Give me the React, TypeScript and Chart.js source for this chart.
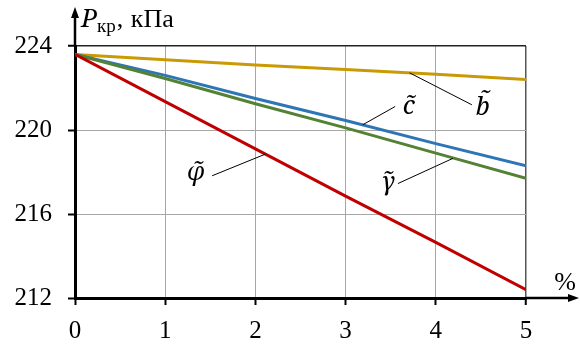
import React, { useEffect, useRef } from 'react';
import { Chart, registerables } from 'chart.js';

Chart.register(...registerables);

const xValues = [0, 1, 2, 3, 4, 5];
const seriesB = [223.6, 223.35, 223.1, 222.88, 222.65, 222.4];
const seriesC = [223.6, 222.6, 221.5, 220.45, 219.35, 218.3];
const seriesGamma = [223.6, 222.45, 221.25, 220.1, 218.9, 217.7];
const seriesPhi = [223.6, 221.35, 219.1, 216.85, 214.65, 212.4];
const yTickValues = [212, 216, 220, 224];
const xTickValues = [0, 1, 2, 3, 4, 5];

const seriesNames = ['b̃', 'c̃', 'γ̃', 'φ̃'];
const seriesColors = ['#C99A06', '#2E75B6', '#548235', '#C00000'];

// annotation labels: label anchor and leader line, in data units
const annText = ['b̃', 'c̃', 'φ̃', 'γ̃'];
const annLabelX = [4.52, 3.7, 1.34, 3.47];
const annLabelY = [221.05, 221.1, 217.95, 217.5];
const annLineX1 = [3.71, 3.19, 2.11, 4.19];
const annLineY1 = [222.72, 220.25, 218.85, 218.65];
const annLineX2 = [4.4, 3.55, 1.52, 3.58];
const annLineY2 = [221.2, 221.12, 217.82, 217.45];

const serif = "'Liberation Serif'";
const mathFont = "'Noto Serif'";

const decorPlugin = {
  id: 'decor',
  afterDraw(chart: any) {
    const ctx = chart.ctx as CanvasRenderingContext2D;
    const { left, right, top, bottom } = chart.chartArea;
    const xs = chart.scales.x;
    const ys = chart.scales.y;
    ctx.save();
    // axis extensions with arrows
    ctx.strokeStyle = '#000';
    ctx.fillStyle = '#000';
    ctx.lineWidth = 2.5;
    ctx.beginPath();
    ctx.moveTo(left, top);
    ctx.lineTo(left, top - 30);
    ctx.stroke();
    ctx.beginPath();
    ctx.moveTo(left, top - 39);
    ctx.lineTo(left - 4, top - 28);
    ctx.lineTo(left + 4, top - 28);
    ctx.closePath();
    ctx.fill();
    ctx.beginPath();
    ctx.moveTo(right, bottom);
    ctx.lineTo(right + 44, bottom);
    ctx.stroke();
    ctx.beginPath();
    ctx.moveTo(right + 53, bottom);
    ctx.lineTo(right + 42, bottom - 4);
    ctx.lineTo(right + 42, bottom + 4);
    ctx.closePath();
    ctx.fill();

    // axis titles
    ctx.textBaseline = 'alphabetic';
    ctx.textAlign = 'left';
    let tx = left + 6;
    const ty = top - 19;
    ctx.font = `italic 26px ${mathFont}`;
    ctx.fillText('P', tx, ty);
    tx += ctx.measureText('P').width;
    ctx.font = `19px ${serif}`;
    ctx.fillText('кр', tx, ty + 5);
    tx += ctx.measureText('кр').width;
    ctx.font = `26px ${serif}`;
    ctx.fillText(',', tx + 1, ty);
    ctx.fillText('кПа', tx + 15, ty);

    ctx.textAlign = 'center';
    ctx.font = `26px ${serif}`;
    ctx.fillText('%', right + 39, bottom - 8);

    // leader lines and labels
    ctx.lineWidth = 1;
    ctx.strokeStyle = '#000';
    for (let i = 0; i < annText.length; i++) {
      ctx.beginPath();
      ctx.moveTo(xs.getPixelForValue(annLineX1[i]), ys.getPixelForValue(annLineY1[i]));
      ctx.lineTo(xs.getPixelForValue(annLineX2[i]), ys.getPixelForValue(annLineY2[i]));
      ctx.stroke();
      ctx.font = `italic 25px ${mathFont}`;
      ctx.textAlign = 'center';
      ctx.textBaseline = 'middle';
      ctx.fillText(annText[i], xs.getPixelForValue(annLabelX[i]), ys.getPixelForValue(annLabelY[i]));
    }
    ctx.restore();
  },
};

export default function App() {
  const ref = useRef<HTMLCanvasElement>(null);
  useEffect(() => {
    if (!ref.current) return;
    const allSeries = [seriesB, seriesC, seriesGamma, seriesPhi];
    const chart = new Chart(ref.current, {
      type: 'line',
      data: {
        datasets: allSeries.map((s, i) => ({
          label: seriesNames[i],
          data: xValues.map((x, j) => ({ x, y: s[j] })),
          borderColor: seriesColors[i],
          backgroundColor: seriesColors[i],
          borderWidth: 3,
          pointRadius: 0,
          tension: 0,
          order: 3 - i,
        })),
      },
      options: {
        animation: false,
        responsive: false,
        devicePixelRatio: 1,
        layout: { padding: { left: 0, top: 46, right: 54, bottom: 0 } },
        plugins: { legend: { display: false }, tooltip: { enabled: false } },
        scales: {
          x: {
            type: 'linear',
            min: 0,
            max: 5,
            afterBuildTicks: (scale: any) => {
              scale.ticks = xTickValues.map((v) => ({ value: v }));
            },
            afterFit: (scale: any) => {
              scale.height = 46;
            },
            ticks: {
              color: '#000',
              font: { family: serif, size: 25 },
              padding: 11,
              maxRotation: 0,
            },
            grid: {
              color: (c: any) => (c.tick && c.tick.value === 5 ? '#555' : '#A6A6A6'),
              lineWidth: (c: any) => (c.tick && c.tick.value === 5 ? 1.5 : 1),
              tickColor: '#000',
              tickLength: 7,
              tickWidth: 2,
            },
            border: { display: true, color: '#000', width: 3 },
          },
          y: {
            type: 'linear',
            min: 212,
            max: 224,
            afterBuildTicks: (scale: any) => {
              scale.ticks = yTickValues.map((v) => ({ value: v }));
            },
            afterFit: (scale: any) => {
              scale.width = 75;
            },
            ticks: {
              color: '#000',
              font: { family: serif, size: 25 },
              padding: 16,
            },
            grid: {
              color: (c: any) => (c.tick && c.tick.value === 224 ? '#222' : '#A6A6A6'),
              lineWidth: (c: any) => (c.tick && c.tick.value === 224 ? 1.5 : 1),
              tickColor: '#000',
              tickLength: 7,
              tickWidth: 2,
            },
            border: { display: true, color: '#000', width: 3 },
          },
        },
      },
      plugins: [decorPlugin],
    } as any);
    return () => chart.destroy();
  }, []);
  return (
    <div style={{ position: 'absolute', left: 0, top: 0, width: 580, height: 344, background: '#fff', overflow: 'hidden' }}>
      <canvas ref={ref} width={580} height={344} style={{ position: 'absolute', left: 0, top: 0 }} />
    </div>
  );
}
